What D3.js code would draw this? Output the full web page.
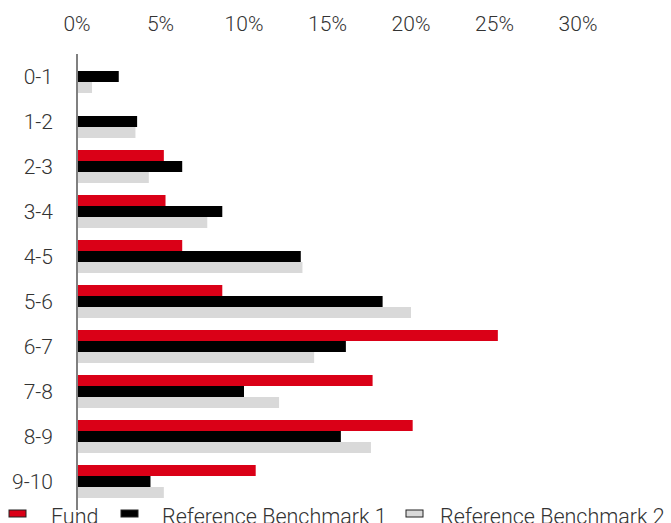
<!DOCTYPE html>
<html>
<head>
<meta charset="utf-8">
<script src="https://cdn.jsdelivr.net/npm/d3@7"></script>
<style>
  body { margin: 0; background: #fff; }
  svg { display: block; font-family: Roboto, "Liberation Sans", sans-serif; font-weight: 300; }
</style>
</head>
<body>
<div id="chart"></div>
<script>
const width = 671;
const height = 523;

const categories = ["0-1", "1-2", "2-3", "3-4", "4-5", "5-6", "6-7", "7-8", "8-9", "9-10"];
const fund = [0, 0, 5.2, 5.3, 6.3, 8.7, 25.2, 17.7, 20.1, 10.7];
const bench1 = [2.5, 3.6, 6.3, 8.7, 13.4, 18.3, 16.1, 10.0, 15.8, 4.4];
const bench2 = [0.9, 3.5, 4.3, 7.8, 13.5, 20.0, 14.2, 12.1, 17.6, 5.2];
const xTicks = [0, 5, 10, 15, 20, 25, 30];

const series = [
    { label: "Fund", values: fund, color: "#da0017" },
    { label: "Reference Benchmark 1", values: bench1, color: "#000000" },
    { label: "Reference Benchmark 2", values: bench2, color: "#d9d9d9" }
];

const svg = d3.select("#chart")
    .append("svg")
    .attr("width", width)
    .attr("height", height);

const x = d3.scaleLinear()
    .domain([0, 30])
    .range([77, 578]);

const y = d3.scaleBand()
    .domain(categories)
    .range([54, 504])
    .paddingInner(0.2667)
    .paddingOuter(0.1333);

const ySub = d3.scaleBand()
    .domain(series.map(s => s.label))
    .range([0, y.bandwidth()]);

// tick labels along the top
svg.append("g")
    .selectAll("text")
    .data(xTicks)
    .join("text")
    .attr("x", d => x(d))
    .attr("y", 31)
    .attr("text-anchor", "middle")
    .attr("font-size", "21px")
    .attr("fill", "#333")
    .text(d => d + "%");

// bars
series.forEach(s => {
    svg.append("g")
        .selectAll("rect")
        .data(categories)
        .join("rect")
        .attr("x", x(0))
        .attr("y", (c) => y(c) + ySub(s.label))
        .attr("width", (c, i) => x(s.values[i]) - x(0))
        .attr("height", ySub.bandwidth())
        .attr("fill", s.color);
});

// category labels
svg.append("g")
    .selectAll("text")
    .data(categories)
    .join("text")
    .attr("x", 53)
    .attr("y", d => y(d) + y.bandwidth() / 2)
    .attr("dy", "0.35em")
    .attr("text-anchor", "end")
    .attr("font-size", "21px")
    .attr("fill", "#333")
    .text(d => d);

// vertical axis line
svg.append("line")
    .attr("x1", x(0))
    .attr("x2", x(0))
    .attr("y1", 54)
    .attr("y2", 510)
    .attr("stroke", "#808080")
    .attr("stroke-width", 2);

// legend
const legendPos = [
    { sx: 9, tx: 51 },
    { sx: 121, tx: 162 },
    { sx: 406, tx: 440 }
];

series.forEach((s, i) => {
    svg.append("rect")
        .attr("x", legendPos[i].sx)
        .attr("y", 510)
        .attr("width", 17)
        .attr("height", 7)
        .attr("fill", s.color)
        .attr("stroke", "#222")
        .attr("stroke-width", 1);

    svg.append("text")
        .attr("x", legendPos[i].tx)
        .attr("y", 524)
        .attr("font-size", "21.5px")
        .attr("fill", "#333")
        .text(s.label);
});
</script>
</body>
</html>
